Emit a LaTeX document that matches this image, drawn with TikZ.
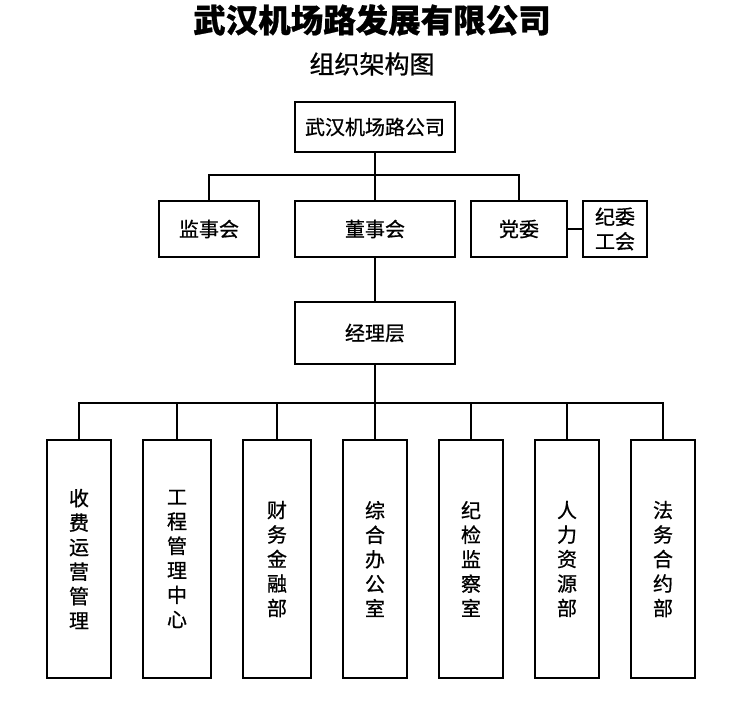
\documentclass[tikz,border=0pt]{standalone}
\usepackage{fontspec}
\newfontfamily\cjk[FakeBold=0.8]{Noto Sans CJK SC}
\usetikzlibrary{positioning}

\begin{document}
\begin{tikzpicture}[x=1pt,y=-1pt,line width=1.1pt,
  txt/.style={font=\cjk\fontsize{20}{24.5}\selectfont,align=center},
  unit/.style={txt,draw,inner sep=0pt,minimum height=56pt},
  dept/.style={txt,draw,inner sep=0pt,minimum width=64pt,minimum height=238pt}]
  \useasboundingbox (0,0) rectangle (749,702);
  % heading
  \node[font=\cjk\bfseries\fontsize{32.5}{36}\selectfont] (title) at (372,20) {武汉机场路发展有限公司};
  \node[font=\cjk\fontsize{25}{28}\selectfont] (sub) at (372,64) {组织架构图};
  % top levels
  \node[unit,minimum width=160pt,minimum height=50pt] (gs) at (375,127) {武汉机场路公司};
  \node[unit,minimum width=100pt] (jsh) at (209,229) {监事会};
  \node[unit,minimum width=160pt] (dsh) at (375,229) {董事会};
  \node[unit,minimum width=96pt] (dw) at (519,229) {党委};
  \node[unit,minimum width=64pt] (jw) at (615,229) {纪委\\工会};
  \node[unit,minimum width=160pt,minimum height=62pt] (jl) at (375,333) {经理层};
  \coordinate (bus1) at (375,175);
  \draw (gs) -- (dsh);
  \draw (jsh.north) |- (bus1) -| (dw.north);
  \draw (dw) -- (jw);
  \draw (dsh) -- (jl);
  % departments
  \node[dept] (d1) at (79,559) {收\\费\\运\\营\\管\\理};
  \node[dept,minimum width=68pt] (d2) at (177,559) {工\\程\\管\\理\\中\\心};
  \node[dept,minimum width=68pt] (d3) at (277,559) {财\\务\\金\\融\\部};
  \node[dept] (d4) at (375,559) {综\\合\\办\\公\\室};
  \node[dept] (d5) at (471,559) {纪\\检\\监\\察\\室};
  \node[dept] (d6) at (567,559) {人\\力\\资\\源\\部};
  \node[dept] (d7) at (663,559) {法\\务\\合\\约\\部};
  \coordinate (bus2) at (375,403);
  \draw (jl) -- (d4);
  \draw (d1.north) |- (bus2) -| (d7.north);
  \foreach \d in {d2,d3,d5,d6}
    \draw (\d.north) -- (\d.north |- bus2);
\end{tikzpicture}
\end{document}
